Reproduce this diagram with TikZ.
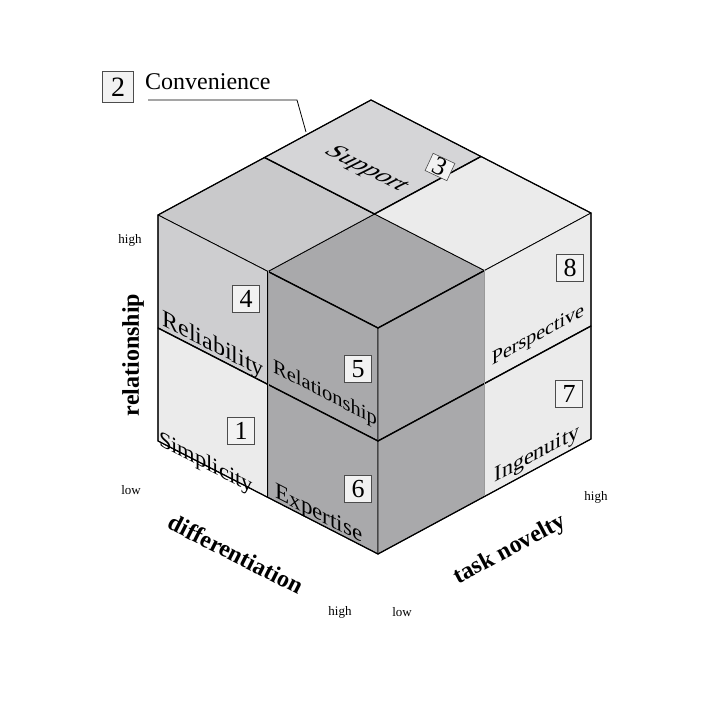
\documentclass[tikz,border=0pt]{standalone}
\usepackage{fontspec}
\setmainfont{Liberation Serif}
\begin{document}
\begin{tikzpicture}[x=1pt,y=1pt,
  face/.style={draw=black,line width=0.8pt,line join=round},
  divide/.style={draw=black,line width=1.4pt},
  numbox/.style={draw=black!70,line width=0.6pt,fill=white!95!black,minimum width=27pt,minimum height=27pt,inner sep=0pt,font=\fontsize{26}{26}\selectfont},
  fs/.style={font=\fontsize{#1}{#1}\selectfont,inner sep=0pt},
  ax/.style={font=\fontsize{24}{24}\selectfont\bfseries,inner sep=0pt},
  tick/.style={font=\fontsize{13}{13}\selectfont,inner sep=0pt}]
\useasboundingbox (0,0) rectangle (720,720);
\fill[white] (0,0) rectangle (720,720);
\definecolor{dk}{HTML}{A9A9AB}
\definecolor{md}{HTML}{C9C9CB}
\definecolor{mb}{HTML}{D5D5D7}
\definecolor{lt}{HTML}{EBEBEB}
% key points
\coordinate (F) at (378,392); \coordinate (Fm) at (378,279); \coordinate (Fb) at (378,166);
\coordinate (L) at (158,505); \coordinate (Lm) at (158,392); \coordinate (Lb) at (158,279);
\coordinate (R) at (591,507); \coordinate (Rm) at (591,394); \coordinate (Rb) at (591,281);
\coordinate (T) at (371,620); \coordinate (C) at (374.5,506);
\coordinate (LT) at (268,448.5); \coordinate (LM) at (268,335.5); \coordinate (LB) at (268,222.5);
\coordinate (RT) at (484.5,449.5); \coordinate (RM) at (484.5,336.5); \coordinate (RB) at (484.5,223.5);
\coordinate (TL) at (264.5,562.5); \coordinate (TR) at (481,563.5);
% top face
\path[face,fill=dk] (F)--(LT)--(C)--(RT)--cycle;
\path[face,fill=md] (L)--(TL)--(C)--(LT)--cycle;
\path[face,fill=mb] (T)--(TR)--(C)--(TL)--cycle;
\path[face,fill=lt] (R)--(RT)--(C)--(TR)--cycle;
% left face
\path[face,fill=md!90!white] (L)--(LT)--(LM)--(Lm)--cycle;
\path[face,fill=lt] (Lm)--(LM)--(LB)--(Lb)--cycle;
\path[face,fill=dk] (LT)--(F)--(Fm)--(LM)--cycle;
\path[face,fill=dk] (LM)--(Fm)--(Fb)--(LB)--cycle;
% right face
\path[face,fill=dk] (F)--(RT)--(RM)--(Fm)--cycle;
\path[face,fill=dk] (Fm)--(RM)--(RB)--(Fb)--cycle;
\path[face,fill=lt] (RT)--(R)--(Rm)--(RM)--cycle;
\path[face,fill=lt] (RM)--(Rm)--(Rb)--(RB)--cycle;
% dividers
\draw[divide] (Lm)--(LM)--(Fm)--(RM)--(Rm);
\draw[divide] (LT)--(F)--(RT);
\draw[divide] (TL)--(C)--(TR);
\draw[line width=1.2pt] (T)--(L)--(Lb)--(Fb)--(Rb)--(R)--cycle;
\draw[line width=0.5pt,double=black!40,double distance=0.8pt] (LT)--(LB) (RT)--(RB);
% labels left face
\node[fs=24,yslant=-0.514] (rel) at (213,374) {Reliability};
\node[numbox] (n4) at (246,421) {4};
\node[fs=22.5,yslant=-0.514] (sim) at (206,256) {Simplicity};
\node[numbox] (n1) at (241,289) {1};
\node[fs=20.5,yslant=-0.514] (rsh) at (325,326) {Relationship};
\node[numbox] (n5) at (358,351) {5};
\node[fs=23,yslant=-0.514] (exp) at (319,205) {Expertise};
\node[numbox] (n6) at (358,231) {6};
% right face
\node[fs=20,yslant=0.54] (per) at (538,384) {Perspective};
\node[numbox] (n8) at (570,452) {8};
\node[fs=22,yslant=0.54] (ing) at (537,265) {Ingenuity};
\node[numbox] (n7) at (569,326) {7};
% top
\node[fs=24,cm={1,-0.5,1,0.5,(0,0)}] (sup) at (366,551) {Support};
\node[numbox,minimum width=24pt,minimum height=19pt,rotate=-25] (n3) at (440,553) {3};
% convenience
\node[numbox,minimum width=31pt,minimum height=31pt,font=\fontsize{28}{28}\selectfont] (n2) at (118,633) {2};
\node[font=\fontsize{24}{24}\selectfont,anchor=west,inner sep=0pt] (conv) at (145,638) {Convenience};
\coordinate (c1) at (148,620); \coordinate (c2) at (297,620); \coordinate (c3) at (306,588);
\draw[line width=0.8pt] (c1)--(c2)--(c3);
% axes
\node[ax,rotate=90] (axr) at (133,365) {relationship};
\node[tick] (h1) at (130,480) {high};
\node[tick] (l1) at (131,230) {low};
\node[ax,rotate=-27] (axd) at (236,166) {differentiation};
\node[ax,rotate=28] (axt) at (510,170) {task novelty};
\node[tick] (h2) at (340,108) {high};
\node[tick] (l2) at (402,108) {low};
\node[tick] (h3) at (596,223) {high};
\end{tikzpicture}
\end{document}
